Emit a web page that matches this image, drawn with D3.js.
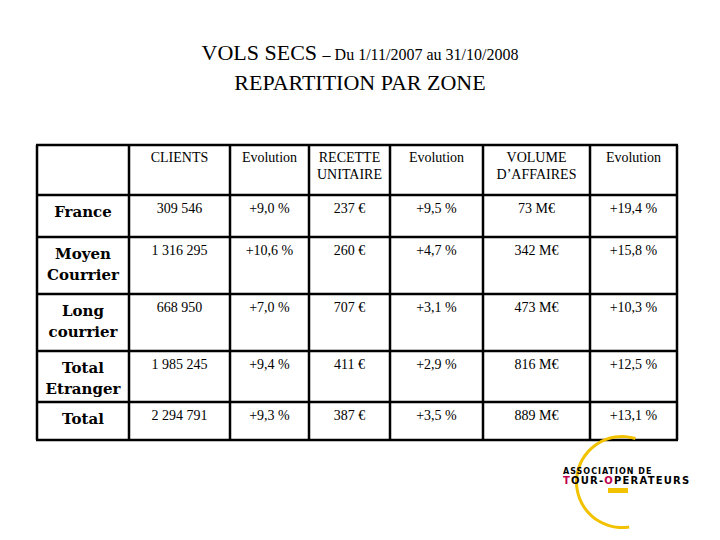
<!DOCTYPE html><html><head><meta charset="utf-8"><script src="https://cdn.jsdelivr.net/npm/d3@7"></script>
<style>body{margin:0;background:#fff}</style></head><body><svg id="c" width="720" height="540"></svg><script>
const headers=[["CLIENTS"],["Evolution"],["RECETTE","UNITAIRE"],["Evolution"],["VOLUME","D’AFFAIRES"],["Evolution"]];
const zones=[["France"],["Moyen","Courrier"],["Long","courrier"],["Total","Etranger"],["Total"]];
const clients=["309 546","1 316 295","668 950","1 985 245","2 294 791"];
const evoClients=["+9,0 %","+10,6 %","+7,0 %","+9,4 %","+9,3 %"];
const recette=["237 €","260 €","707 €","411 €","387 €"];
const evoRecette=["+9,5 %","+4,7 %","+3,1 %","+2,9 %","+3,5 %"];
const volume=["73 M€","342 M€","473 M€","816 M€","889 M€"];
const evoVolume=["+19,4 %","+15,8 %","+10,3 %","+12,5 %","+13,1 %"];
const cols=[clients,evoClients,recette,evoRecette,volume,evoVolume];
const colEdges=[37,129,230,309,390,483,590,677];
const rowEdges=[145,195,237,294,351,402,440];
const svg=d3.select("#c");
const F="'Liberation Serif','DejaVu Serif',serif";
const t=svg.append("text").attr("x",360).attr("y",60).attr("text-anchor","middle").attr("font-family",F);
t.append("tspan").attr("font-size",22).text("VOLS SECS ");
t.append("tspan").attr("font-size",16).text("– Du 1/11/2007 au 31/10/2008");
svg.append("text").attr("x",360).attr("y",90).attr("text-anchor","middle").attr("font-family",F).attr("font-size",22).text("REPARTITION PAR ZONE");
const g=svg.append("g").attr("stroke","#000").attr("stroke-width",2.5);
colEdges.forEach(x=>g.append("line").attr("x1",x).attr("x2",x).attr("y1",rowEdges[0]).attr("y2",rowEdges[6]));
rowEdges.forEach(y=>g.append("line").attr("x1",colEdges[0]-1).attr("x2",colEdges[7]+1).attr("y1",y).attr("y2",y));
const cx=i=>(colEdges[i]+colEdges[i+1])/2;
headers.forEach((h,i)=>h.forEach((s,k)=>svg.append("text").attr("x",cx(i+1)).attr("y",162+k*17).attr("text-anchor","middle").attr("font-family",F).attr("font-size",14).text(s)));
zones.forEach((z,r)=>{const y0=rowEdges[r+1];
 z.forEach((s,k)=>svg.append("text").attr("x",cx(0)).attr("y",y0+22+k*21).attr("text-anchor","middle").attr("font-family","'DejaVu Serif',serif").attr("font-size",15).attr("font-weight","bold").text(s));
 cols.forEach((c,i)=>svg.append("text").attr("x",cx(i+1)).attr("y",y0+18).attr("text-anchor","middle").attr("font-family",F).attr("font-size",14).text(c[r]));
});
const lg=svg.append("g");
lg.append("path").attr("d",d3.arc()({innerRadius:44,outerRadius:47,startAngle:0.3,endAngle:-3.3})).attr("transform","translate(622,482)").attr("fill","#f2c200");
lg.append("text").attr("x",563).attr("y",474).attr("font-family","DejaVu Sans").attr("font-size",8).attr("letter-spacing",1).attr("font-weight","bold").text("ASSOCIATION DE");
const l2=lg.append("text").attr("x",563).attr("y",484).attr("font-family","DejaVu Sans").attr("font-size",10).attr("font-weight","bold").attr("letter-spacing",1.2);
l2.append("tspan").attr("fill","#c0004e").text("T");l2.append("tspan").text("OUR-");l2.append("tspan").attr("fill","#c0004e").text("O");l2.append("tspan").text("PERATEURS");
lg.append("rect").attr("x",608).attr("y",488).attr("width",20).attr("height",5).attr("fill","#f2c200");
</script></body></html>
